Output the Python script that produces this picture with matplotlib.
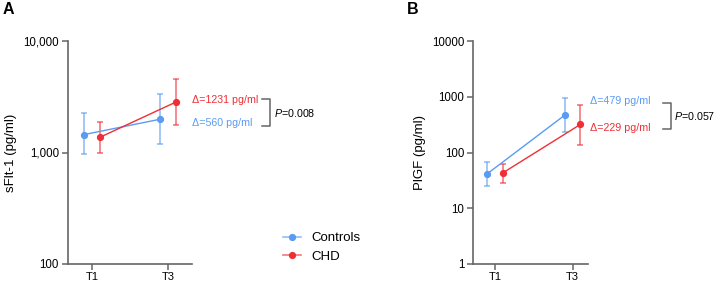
import matplotlib
matplotlib.use("Agg")
import matplotlib.pyplot as plt
from matplotlib.lines import Line2D
import numpy as np

plt.rcParams['font.family'] = ['Liberation Sans', 'DejaVu Sans']
plt.rcParams['mathtext.fontset'] = 'custom'
plt.rcParams['mathtext.it'] = 'Liberation Sans:italic'
plt.rcParams['mathtext.rm'] = 'Liberation Sans'

timepoints = ["T1", "T3"]
groups = ["Controls", "CHD"]

# Panel A: sFlt-1 (pg/ml)
sflt_mean = {"Controls": [1450, 1990], "CHD": [1365, 2825]}
sflt_low = {"Controls": [965, 1190], "CHD": [985, 1770]}
sflt_high = {"Controls": [2240, 3330], "CHD": [1860, 4540]}

# Panel B: PlGF (pg/ml)
plgf_mean = {"Controls": [41.5, 468], "CHD": [43, 318]}
plgf_low = {"Controls": [24.8, 235], "CHD": [28.9, 139]}
plgf_high = {"Controls": [67, 944], "CHD": [62.7, 718]}

colors = {"Controls": "#5A9CF2", "CHD": "#EE2F36"}
offsets = {"Controls": -0.1, "CHD": 0.1}

W, H = 716, 284
fig = plt.figure(figsize=(W / 100, H / 100), dpi=100)

spine_col = "#666666"
ANN_FS = 7.7
TICK_FS = 8.3

def px(x, y):
    return x / W, 1 - y / H

def make_ax(left, right, xlim, ylim, yticks, yticklabels, ylabel, means, lows, highs):
    ax = fig.add_axes([left / W, 1 - 264 / H, (right - left) / W, (264 - 41) / H])
    ax.set_yscale('log')
    for g in groups:
        x = np.arange(len(timepoints)) + offsets[g]
        m = np.array(means[g]); lo = np.array(lows[g]); hi = np.array(highs[g])
        ax.errorbar(x, m, yerr=[m - lo, hi - m], fmt='none', ecolor=colors[g],
                    alpha=0.7, elinewidth=1.1, capsize=2.5, capthick=1.1, zorder=2)
        ax.plot(x, m, '-o', color=colors[g], lw=1.0, markersize=4.2, zorder=3, label=g)
    ax.set_xlim(*xlim)
    ax.set_ylim(*ylim)
    ax.set_xticks(range(len(timepoints)))
    ax.set_xticklabels(timepoints, fontsize=8)
    ax.set_yticks(yticks)
    ax.set_yticklabels(yticklabels, fontsize=TICK_FS)
    ax.yaxis.set_minor_locator(matplotlib.ticker.NullLocator())
    for s in ['top', 'right']:
        ax.spines[s].set_visible(False)
    for s in ['left', 'bottom']:
        ax.spines[s].set_color(spine_col)
        ax.spines[s].set_linewidth(1.2)
    ax.tick_params(axis='both', colors=spine_col, labelcolor='black', length=4.5, width=1.1, pad=2)
    ax.tick_params(axis='x', pad=1.2)
    ax.set_ylabel(ylabel, fontsize=9.5)
    ax.patch.set_alpha(0)
    return ax

axA = make_ax(68, 192, (-0.316, 1.316), (100, 10000), [100, 1000, 10000],
              ["100", "1,000", "10,000"], "sFlt-1 (pg/ml)", sflt_mean, sflt_low, sflt_high)
axA.yaxis.set_label_coords(-0.41, 0.5)
axB = make_ax(473.3, 588, (-0.28, 1.2), (1, 10000), [1, 10, 100, 1000, 10000],
              ["1", "10", "100", "1000", "10000"], "PlGF (pg/ml)", plgf_mean, plgf_low, plgf_high)
axB.yaxis.set_label_coords(-0.412, 0.5)

fig.text(*px(3, 9.5), "A", fontsize=11.5, fontweight='bold', va='center', ha='left')
fig.text(*px(407, 9.5), "B", fontsize=11.5, fontweight='bold', va='center', ha='left')

def annot(xt, y_top_text, y_bot_text, top_label, top_col, bot_label, bot_col,
          bx0, bx1, by0, by1, ptext_x, ptext_y, ptext):
    fig.text(*px(xt, y_top_text), top_label, color=top_col, fontsize=ANN_FS, va='center', ha='left')
    fig.text(*px(xt, y_bot_text), bot_label, color=bot_col, fontsize=ANN_FS, va='center', ha='left')
    xs = [bx0, bx1, bx1, bx0]
    ys = [by0, by0, by1, by1]
    fig.add_artist(Line2D([x / W for x in xs], [1 - y / H for y in ys], color=spine_col, lw=1.1))
    fig.text(*px(ptext_x, ptext_y), ptext, fontsize=ANN_FS, va='center', ha='left')

annot(192, 100, 123, "\u0394=1231 pg/ml", colors["CHD"], "\u0394=560 pg/ml", colors["Controls"],
      262, 270, 98.7, 126, 274, 113, r"$\it{P}$=0.008")
annot(590, 101, 127.7, "\u0394=479 pg/ml", colors["Controls"], "\u0394=229 pg/ml", colors["CHD"],
      662.5, 670.5, 102.5, 129, 673.5, 116, r"$\it{P}$=0.057")

handles = []
for g in groups:
    ln = Line2D([], [], color=colors[g], lw=1.2, alpha=0.65)
    mk = Line2D([], [], color=colors[g], marker='o', markersize=4.2, lw=0)
    handles.append((ln, mk))
fig.legend(handles, groups, loc='center left', bbox_to_anchor=(283 / W, 1 - 247.5 / H),
           frameon=False, fontsize=9.5, handlelength=1.35, handletextpad=0.8, labelspacing=0.5,
           borderaxespad=0, borderpad=0)

fig.savefig("out.png", dpi=100)
